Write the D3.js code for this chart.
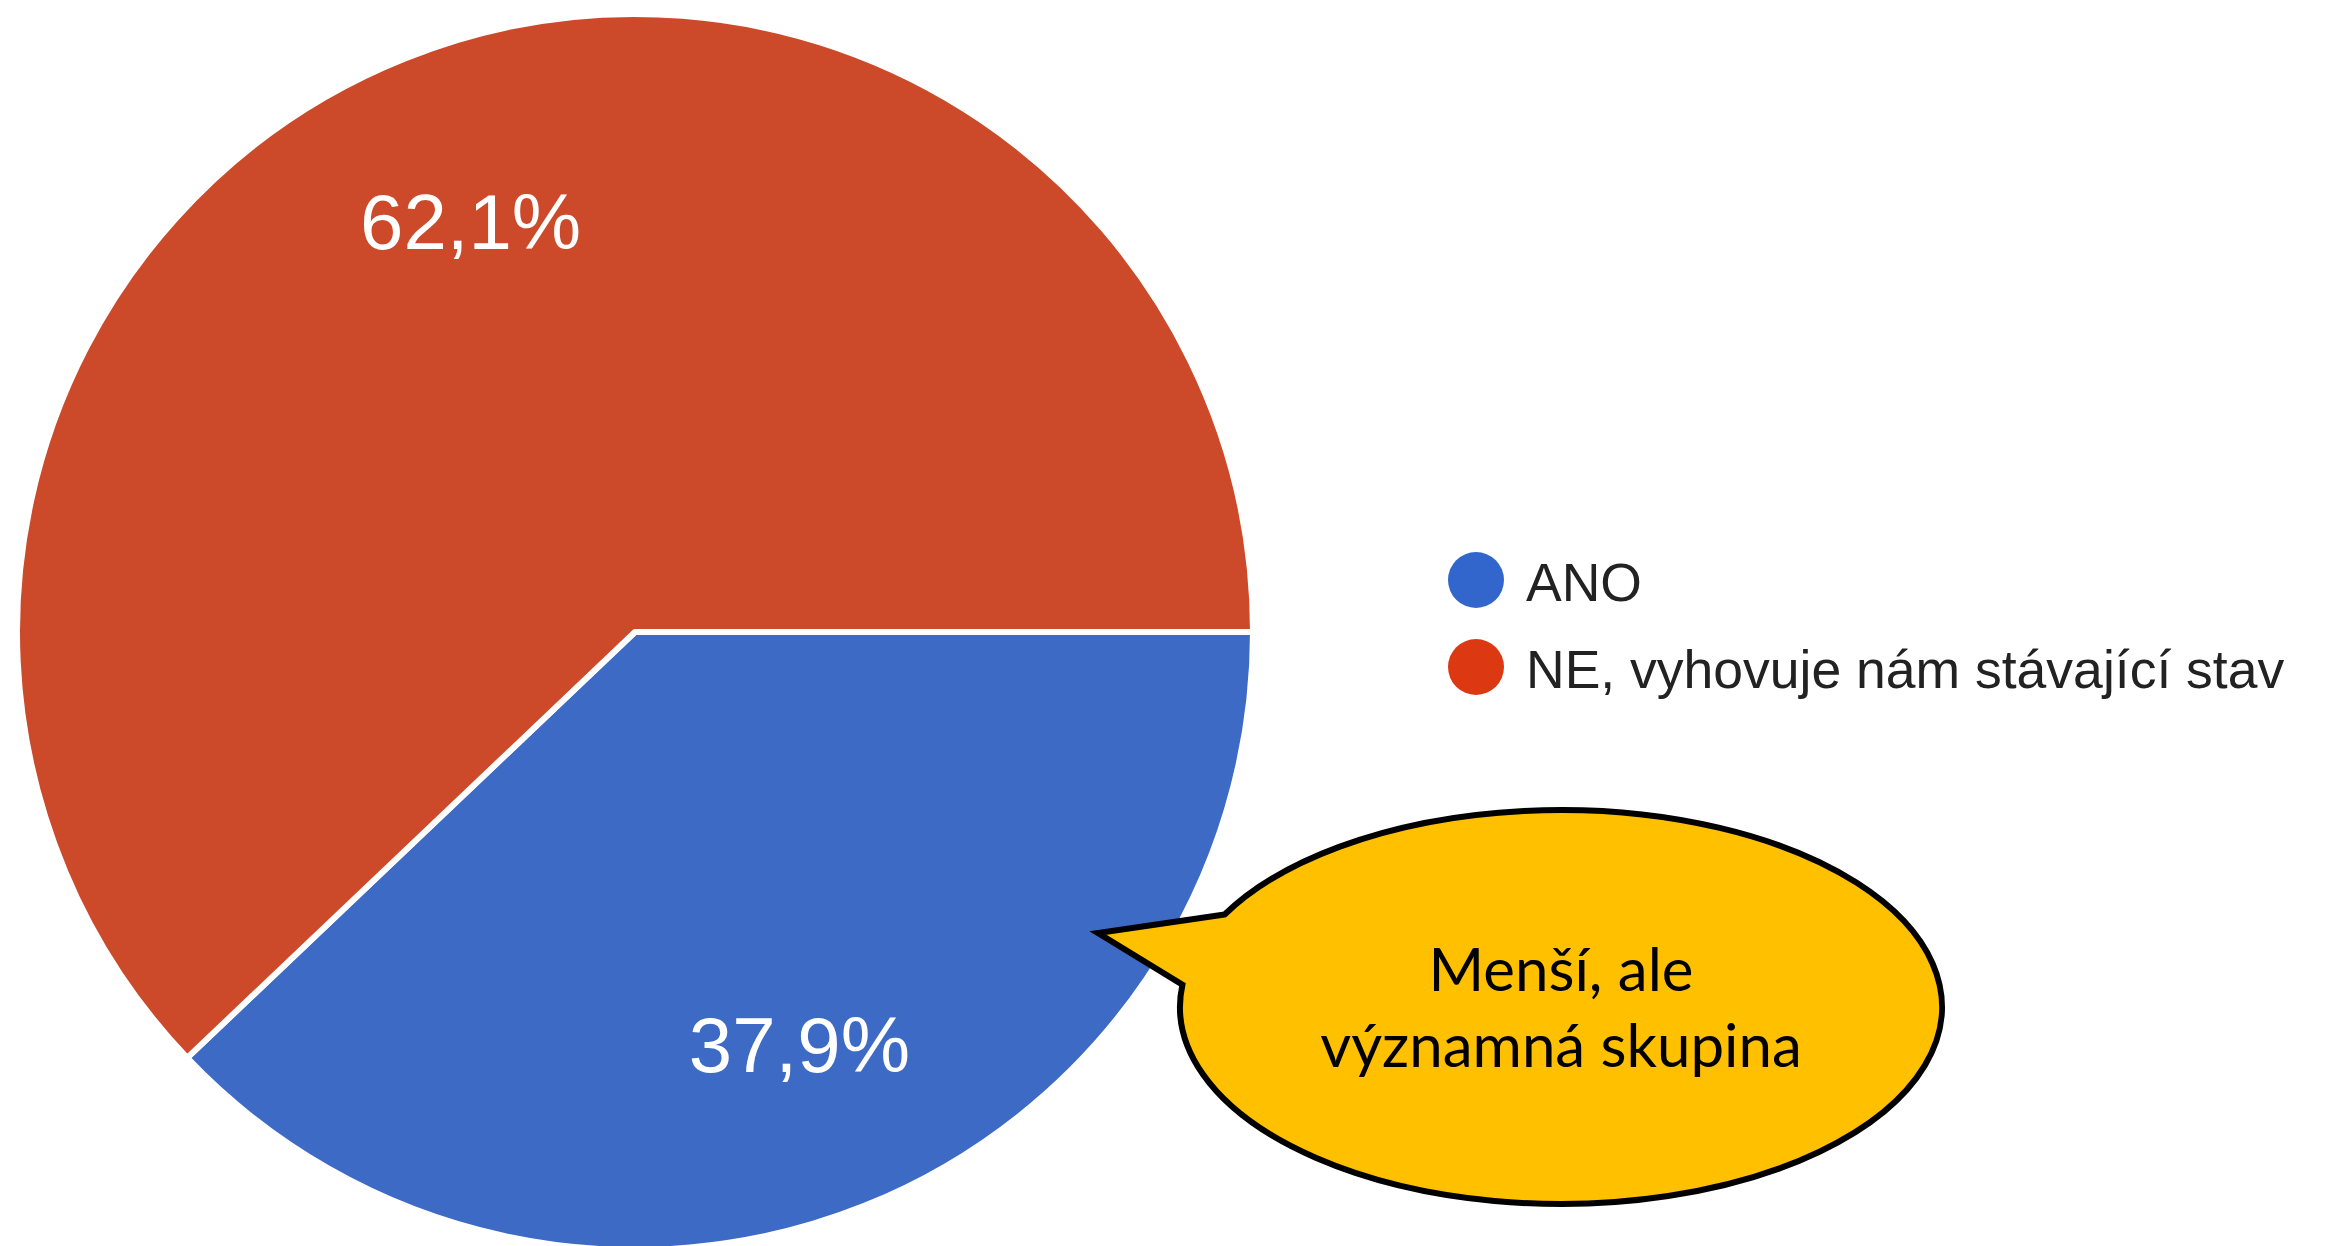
<!DOCTYPE html>
<html>
<head>
<meta charset="utf-8">
<script src="https://cdn.jsdelivr.net/npm/d3@7"></script>
<style>
  html, body { margin: 0; padding: 0; background: #fff; }
  svg { display: block; }
</style>
</head>
<body>
<div id="chart"></div>
<script>
// data
const categories = ["ANO", "NE, vyhovuje nám stávající stav"];
const values = [37.9, 62.1];
const sliceColors = ["#3c6ac5", "#cc4929"];
const legendColors = ["#3366cc", "#dc3912"];
const calloutLines = ["Menší, ale", "významná skupina"];

const width = 2343, height = 1246;
const cx = 635, cy = 632, radius = 618;

// czech number format: decimal comma
const cs = d3.formatLocale({ decimal: ",", thousands: " ", grouping: [3], currency: ["", " Kč"] });
const fmt = cs.format(".1f");

const svg = d3.select("#chart").append("svg")
    .attr("width", width)
    .attr("height", height);

const pie = d3.pie()
    .sort(null)
    .value(d => d.value)
    .startAngle(Math.PI / 2)
    .endAngle(Math.PI / 2 + 2 * Math.PI);

const data = categories.map((c, i) => ({ name: c, value: values[i], color: sliceColors[i] }));
const arcs = pie(data);

const arc = d3.arc().innerRadius(0).outerRadius(radius);
const labelArc = d3.arc().innerRadius(radius * 0.717).outerRadius(radius * 0.717);

const g = svg.append("g").attr("transform", `translate(${cx},${cy})`);

g.selectAll("path")
    .data(arcs)
    .join("path")
    .attr("d", arc)
    .attr("fill", d => d.data.color)
    .attr("stroke", "#fff")
    .attr("stroke-width", 6)
    .attr("stroke-linejoin", "round");

g.selectAll("text")
    .data(arcs)
    .join("text")
    .attr("transform", d => `translate(${labelArc.centroid(d)})`)
    .attr("text-anchor", "middle")
    .attr("dy", "0.36em")
    .attr("fill", "#fff")
    .attr("font-family", "'Liberation Sans', Arial, sans-serif")
    .attr("font-size", 78)
    .text(d => fmt(d.data.value) + "%");

// legend
const legend = svg.append("g").attr("transform", "translate(1476,580)");
const item = legend.selectAll("g")
    .data(categories)
    .join("g")
    .attr("transform", (d, i) => `translate(0,${i * 87})`);

item.append("circle")
    .attr("r", 28)
    .attr("fill", (d, i) => legendColors[i]);

item.append("text")
    .attr("x", 50)
    .attr("y", 21)
    .attr("fill", "#222")
    .attr("font-family", "'Liberation Sans', Arial, sans-serif")
    .attr("font-size", 53.5)
    .text(d => d);

// speech bubble
const ex = 1561, ey = 1007, rx = 381, ry = 197;
const tip = [1098, 933];
const t1 = -152 * Math.PI / 180, t2 = 186.5 * Math.PI / 180;
const p1 = [ex + rx * Math.cos(t1), ey + ry * Math.sin(t1)];
const p2 = [ex + rx * Math.cos(t2), ey + ry * Math.sin(t2)];

const bubble = d3.path();
bubble.moveTo(p1[0], p1[1]);
bubble.lineTo(tip[0], tip[1]);
bubble.lineTo(p2[0], p2[1]);
const bubbleD = bubble.toString() + ` A${rx},${ry} 0 1 0 ${p1[0]},${p1[1]} Z`;

svg.append("path")
    .attr("d", bubbleD)
    .attr("fill", "#ffc000")
    .attr("stroke", "#000")
    .attr("stroke-width", 6)
    .attr("stroke-linejoin", "miter");

svg.append("g")
    .selectAll("text")
    .data(calloutLines)
    .join("text")
    .attr("x", ex)
    .attr("y", (d, i) => 991 + i * 76)
    .attr("text-anchor", "middle")
    .attr("fill", "#000")
    .attr("font-family", "Lato, 'Noto Sans', sans-serif")
    .attr("font-size", 60)
    .text(d => d);
</script>
</body>
</html>
